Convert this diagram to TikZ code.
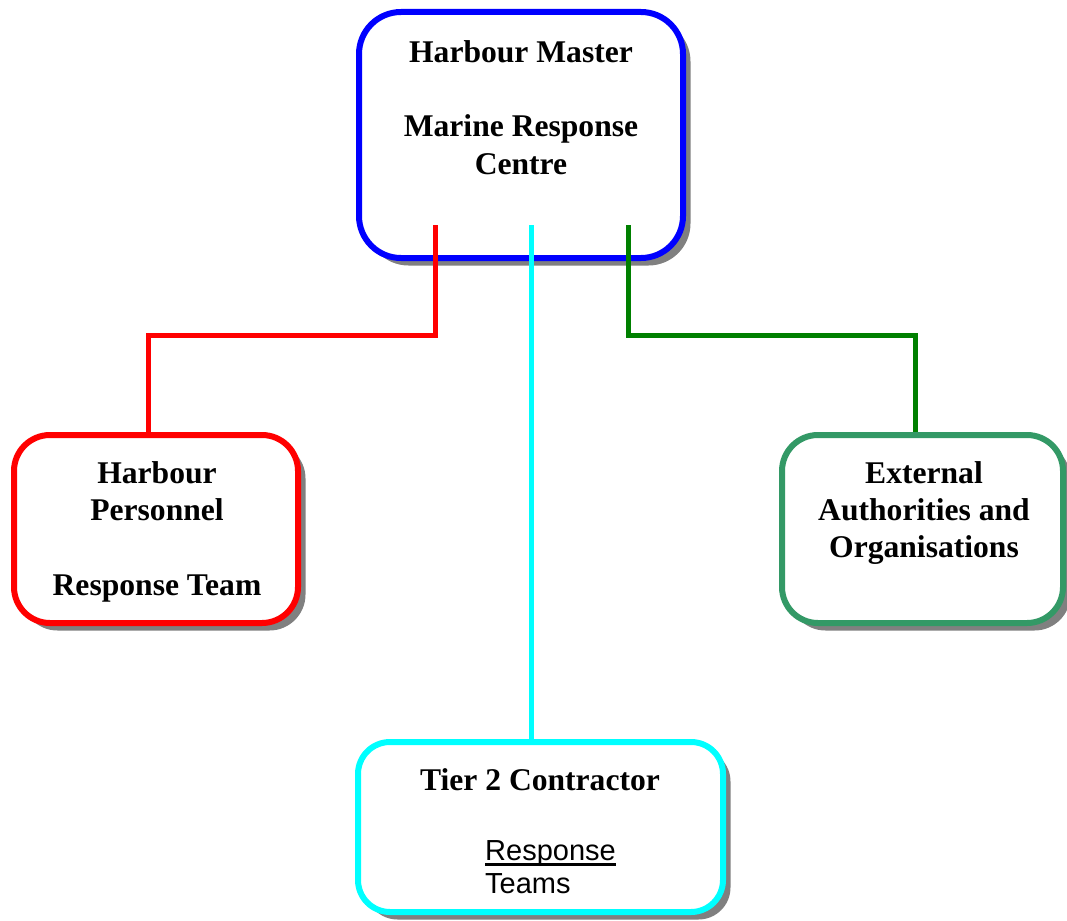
\documentclass[tikz,border=0pt]{standalone}
\usepackage{fontspec}
\setmainfont{Liberation Serif}
\newfontfamily\arialfont{Liberation Sans}
\usetikzlibrary{shadows}
\definecolor{hmblue}{RGB}{0,0,255}
\definecolor{hpred}{RGB}{255,0,0}
\definecolor{tcyan}{RGB}{0,255,255}
\definecolor{extgreen}{RGB}{51,153,102}
\definecolor{lgreen}{RGB}{0,128,0}
\definecolor{shadowgray}{RGB}{128,128,128}
\newcommand\myuline[1]{\setbox0\hbox{#1}\rlap{\rule[-6pt]{\wd0}{2.6pt}}\box0}
\begin{document}
\begin{tikzpicture}[x=1pt,y=-1pt,
  box/.style={draw, line width=6pt, fill=white, inner sep=0pt, rounded corners=36pt,
    drop shadow={shadow xshift=7.5pt, shadow yshift=-7.5pt, fill=shadowgray, opacity=1}},
  lbl/.style={anchor=base, inner sep=0pt, font=\bfseries\fontsize{31.6}{38}\selectfont},
  rlbl/.style={anchor=base west, inner sep=0pt, font=\arialfont\fontsize{29}{34}\selectfont},
  conn/.style={line width=5pt}]
\useasboundingbox (0,0) rectangle (1067,920);
% boxes
\node[box, draw=hmblue, minimum width=324pt, minimum height=246pt, rounded corners=42pt] (hm) at (521,135) {};
\node[box, draw=hpred, minimum width=284pt, minimum height=188pt] (hp) at (156,529) {};
\node[box, draw=extgreen, minimum width=281pt, minimum height=188pt] (ea) at (922.5,529) {};
\node[box, draw=tcyan, minimum width=365pt, minimum height=170pt, rounded corners=32pt] (t2) at (540.5,827) {};
% texts
\node[lbl] (hm1) at (521,63) {Harbour Master};
\node[lbl] (hm2) at (521,137) {Marine Response};
\node[lbl] (hm3) at (521,175) {Centre};
\node[lbl] (hp1) at (157,483) {Harbour};
\node[lbl] (hp2) at (157,520) {Personnel};
\node[lbl] (hp3) at (157,595) {Response Team};
\node[lbl] (ea1) at (924,483) {External};
\node[lbl] (ea2) at (924,520) {Authorities and};
\node[lbl] (ea3) at (924,557) {Organisations};
\node[lbl] (t21) at (540,790) {Tier 2 Contractor};
\node[rlbl] (t22) at (485,860) {\myuline{Response}};
\node[rlbl] (t23) at (485,893) {Teams};
% connectors
\draw[conn, hpred] ([xshift=-86pt,yshift=36pt]hm.south) |- ([xshift=-8pt,yshift=97pt]hp.north) -- ([xshift=-8pt]hp.north);
\draw[conn, tcyan] ([xshift=10pt,yshift=36pt]hm.south) coordinate (cs) -- (cs |- t2.north);
\draw[conn, lgreen] ([xshift=107pt,yshift=36pt]hm.south) |- ([xshift=-7.5pt,yshift=97pt]ea.north) -- ([xshift=-7.5pt]ea.north);
\end{tikzpicture}
\end{document}
